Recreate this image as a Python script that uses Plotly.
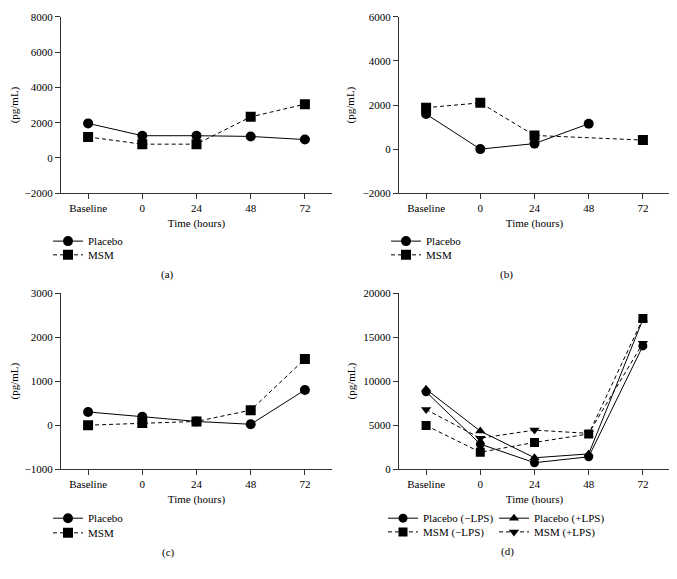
import plotly.graph_objects as go

# The page body has an 8px default margin; lay the figure out in window pixels.
OFF = 8
W, H = 677 - OFF, 579 - OFF

categories = ["Baseline", "0", "24", "48", "72"]

# Panel (a)
a_placebo = [1960, 1260, 1260, 1220, 1040]
a_msm = [1190, 780, 780, 2330, 3050]

# Panel (b)
b_placebo = [1590, 0, 250, 1150, None]
b_msm = [1880, 2100, 620, None, 410]

# Panel (c)
c_placebo = [300, 190, 85, 20, 800]
c_msm = [0, 50, 85, 340, 1500]

# Panel (d)
d_placebo_minus = [8780, 2850, 740, 1410, 14000]
d_msm_minus = [4960, 1930, 3040, 4000, 17100]
d_placebo_plus = [9070, 4330, 1300, 1740, 17000]
d_msm_plus = [6780, 3520, 4440, 4070, 14300]

FONT = "Liberation Serif"
BLACK = "#000000"
AX = "#333333"

fig = go.Figure()


def px_x(p):
    return (p - OFF) / W


def px_y(p):
    return 1 - (p - OFF) / H


def add(xa, ya, y, name, symbol, dash, legend, size=10):
    fig.add_trace(go.Scatter(
        x=categories, y=y, name=name, mode="lines+markers",
        xaxis=xa, yaxis=ya, legend=legend, connectgaps=True,
        line=dict(color=BLACK, width=1, dash=dash),
        marker=dict(symbol=symbol, size=size, color=BLACK),
    ))


DASH = "4px,3px"
add("x", "y", a_placebo, "Placebo", "circle", "solid", "legend")
add("x", "y", a_msm, "MSM", "square", DASH, "legend2")
add("x2", "y2", b_placebo, "Placebo", "circle", "solid", "legend3")
add("x2", "y2", b_msm, "MSM", "square", DASH, "legend4")
add("x3", "y3", c_placebo, "Placebo", "circle", "solid", "legend5")
add("x3", "y3", c_msm, "MSM", "square", DASH, "legend6")
add("x4", "y4", d_placebo_minus, "Placebo (\u2212LPS)", "circle", "solid", "legend7", 9)
add("x4", "y4", d_placebo_plus, "Placebo (+LPS)", "triangle-up", "solid", "legend9", 9)
add("x4", "y4", d_msm_plus, "MSM (+LPS)", "triangle-down", DASH, "legend10", 9)
add("x4", "y4", d_msm_minus, "MSM (\u2212LPS)", "square", DASH, "legend8", 9)

# domains (window pixels)
xl = [px_x(61), px_x(332)]
xr = [px_x(399), px_x(670)]
yt = [px_y(191), px_y(11)]
yb = [px_y(473), px_y(293)]

tickfont = dict(family=FONT, size=11, color=BLACK)


def xaxis(domain, anchor):
    return dict(
        domain=domain, anchor=anchor, type="category",
        categoryorder="array", categoryarray=categories,
        range=[-0.5, 4.5], showgrid=False, zeroline=False,
        showline=True, linecolor=AX, linewidth=1,
        ticks="outside", ticklen=5, tickcolor=AX, tickwidth=1,
        tickfont=tickfont,
        title=dict(text="Time (hours)", font=tickfont, standoff=5),
    )


def yaxis(domain, anchor, rng, dtick):
    return dict(
        domain=domain, anchor=anchor, range=rng, dtick=dtick,
        tickformat="d", showgrid=False, zeroline=False,
        showline=True, linecolor=AX, linewidth=1,
        ticks="outside", ticklen=5, tickcolor=AX, tickwidth=1,
        tickfont=tickfont,
        title=dict(text="(pg/mL)", font=tickfont, standoff=5),
    )


legends = {}


def leg(key, lx, ly):
    legends[key] = dict(
        x=px_x(lx), y=px_y(ly), xanchor="left", yanchor="middle",
        bgcolor="rgba(0,0,0,0)", borderwidth=0,
        font=dict(family=FONT, size=11, color=BLACK),
        itemwidth=30, tracegroupgap=0,
    )


leg("legend", 48, 240)
leg("legend2", 48, 254)
leg("legend3", 386, 240)
leg("legend4", 386, 254)
leg("legend5", 48, 523)
leg("legend6", 48, 538)
leg("legend7", 383, 523)
leg("legend8", 383, 537)
leg("legend9", 494, 523)
leg("legend10", 494, 537)

annotations = []
for text, ax_, ay_ in [("(a)", 167, 274), ("(b)", 506, 274), ("(c)", 168, 558), ("(d)", 507, 557)]:
    annotations.append(dict(
        text=text, x=px_x(ax_), y=px_y(ay_), xref="paper", yref="paper",
        xanchor="center", yanchor="middle", showarrow=False,
        font=dict(family=FONT, size=11, color=BLACK),
    ))

fig.update_layout(
    width=W, height=H,
    margin=dict(l=0, r=0, t=0, b=0),
    paper_bgcolor="white", plot_bgcolor="white",
    showlegend=True,
    font=dict(family=FONT, size=11, color=BLACK),
    xaxis=xaxis(xl, "y"), yaxis=yaxis(yt, "x", [-2000, 8000], 2000),
    xaxis2=xaxis(xr, "y2"), yaxis2=yaxis(yt, "x2", [-2000, 6000], 2000),
    xaxis3=xaxis(xl, "y3"), yaxis3=yaxis(yb, "x3", [-1000, 3000], 1000),
    xaxis4=xaxis(xr, "y4"), yaxis4=yaxis(yb, "x4", [0, 20000], 5000),
    annotations=annotations,
    **legends,
)

fig.write_html("out.html")
